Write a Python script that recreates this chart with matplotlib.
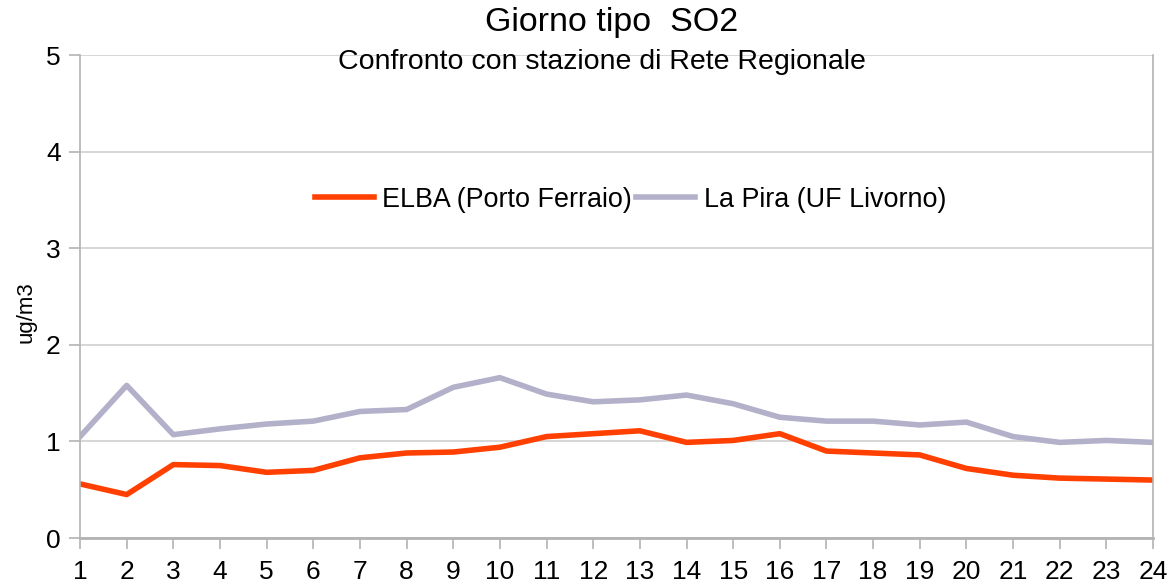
import matplotlib.pyplot as plt

plt.rcParams['font.family'] = ['Liberation Sans', 'DejaVu Sans']

hours = list(range(1, 25))
elba = [0.56, 0.45, 0.76, 0.75, 0.68, 0.70, 0.83, 0.88, 0.89, 0.94, 1.05, 1.08,
        1.11, 0.99, 1.01, 1.08, 0.90, 0.88, 0.86, 0.72, 0.65, 0.62, 0.61, 0.60]
la_pira = [1.05, 1.58, 1.07, 1.13, 1.18, 1.21, 1.31, 1.33, 1.56, 1.66, 1.49, 1.41,
           1.43, 1.48, 1.39, 1.25, 1.21, 1.21, 1.17, 1.20, 1.05, 0.99, 1.01, 0.99]
yticks = [0, 1, 2, 3, 4, 5]

fig = plt.figure(figsize=(11.72, 5.86), dpi=100)
ax = fig.add_axes([0.0683, 0.0819, 0.9155, 0.8242])

ax.plot(hours, elba, color='#ff4000', lw=4.0, label='ELBA (Porto Ferraio)')
ax.plot(hours, la_pira, color='#b3b0ca', lw=4.0, label='La Pira (UF Livorno)')

ax.set_xlim(1, 24)
ax.set_ylim(0, 5)
ax.set_xticks(hours)
ax.set_yticks(yticks)
ax.grid(axis='y', color='#d0d0d0', lw=1.2)
ax.set_axisbelow(True)
for s in ['left', 'right', 'bottom']:
    ax.spines[s].set_color('#b3b3b3')
    ax.spines[s].set_linewidth(1.2)
ax.spines['bottom'].set_linewidth(2)
ax.spines['top'].set_visible(False)
ax.tick_params(axis='both', labelsize=19, color='#b3b3b3', length=8, width=1.2)
ax.tick_params(axis='y', pad=6)
ax.tick_params(axis='x', pad=8)
ax.set_ylabel('ug/m3', fontsize=16)
ax.yaxis.set_label_coords(-0.041, 0.468)

fig.text(0.522, 0.962, 'Giorno tipo  SO2', ha='center', va='center', fontsize=24.5)
fig.text(0.514, 0.894, 'Confronto con stazione di Rete Regionale', ha='center', va='center', fontsize=20.5)

ax.legend(loc='center', bbox_to_anchor=(0.513, 0.70), ncol=2, frameon=False,
          fontsize=19.4, handlelength=2.2, columnspacing=0.15, handletextpad=0.3)

fig.savefig('out.png', dpi=100)
